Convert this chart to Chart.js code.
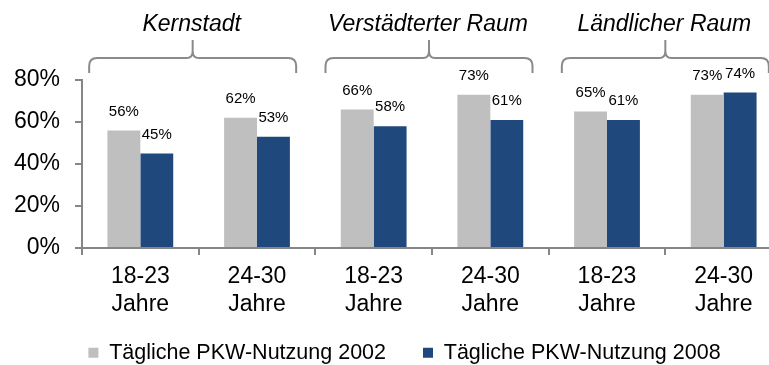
<!DOCTYPE html>
<html lang="de">
<head>
<meta charset="utf-8">
<title>Tägliche PKW-Nutzung</title>
<script src="https://cdn.jsdelivr.net/npm/chart.js@4/dist/chart.umd.min.js"></script>
<style>
  html, body { margin: 0; padding: 0; background: #fff; overflow: hidden; }
  #wrap { width: 769px; height: 365px; overflow: hidden; }
  canvas { display: block; }
</style>
</head>
<body>
<div id="wrap"><canvas id="chart" width="790" height="365"></canvas></div>
<script>
// Age groups per region (two per region)
const ageGroups = [
  ['18-23', 'Jahre'], ['24-30', 'Jahre'],
  ['18-23', 'Jahre'], ['24-30', 'Jahre'],
  ['18-23', 'Jahre'], ['24-30', 'Jahre']
];
const regions = ['Kernstadt', 'Verstädterter Raum', 'Ländlicher Raum'];
const seriesNames = ['Tägliche PKW-Nutzung 2002', 'Tägliche PKW-Nutzung 2008'];
const usage2002 = [56, 62, 66, 73, 65, 73];
const usage2008 = [45, 53, 58, 61, 61, 74];
const yTicks = [0, 20, 40, 60, 80];

const FONT = '"Liberation Sans", Arial, Helvetica, sans-serif';
const AXIS_GREY = '#868686';

// Percent labels above each bar
const valueLabels = {
  id: 'valueLabels',
  afterDatasetsDraw(chart) {
    const ctx = chart.ctx;
    ctx.save();
    ctx.font = '15px ' + FONT;
    ctx.fillStyle = '#000';
    ctx.textAlign = 'center';
    ctx.textBaseline = 'middle';
    chart.data.datasets.forEach((ds, di) => {
      const meta = chart.getDatasetMeta(di);
      meta.data.forEach((bar, i) => {
        ctx.fillText(ds.data[i] + '%', bar.x, bar.y - 19);
      });
    });
    ctx.restore();
  }
};

// Region headings with curly brackets spanning each pair of age groups
const regionBrackets = {
  id: 'regionBrackets',
  afterDraw(chart) {
    const ctx = chart.ctx;
    const x = chart.scales.x;
    const half = 103.5;
    const yTop = 40, yBar = 58, yEnd = 73, r = 8;
    ctx.save();
    regions.forEach((name, g) => {
      const c = x.getPixelForValue(2 * g + 0.5) + (g * 3 - 6);
      const L = c - half, R = c + half;
      ctx.strokeStyle = '#8a8a8a';
      ctx.lineWidth = 2;
      ctx.beginPath();
      ctx.moveTo(L, yEnd);
      ctx.lineTo(L, yBar + r);
      ctx.quadraticCurveTo(L, yBar, L + r, yBar);
      ctx.lineTo(c - 6, yBar);
      ctx.quadraticCurveTo(c, yBar, c, yBar - 7);
      ctx.lineTo(c, yTop);
      ctx.moveTo(c, yBar - 7);
      ctx.quadraticCurveTo(c, yBar, c + 6, yBar);
      ctx.lineTo(R - r, yBar);
      ctx.quadraticCurveTo(R, yBar, R, yBar + r);
      ctx.lineTo(R, yEnd);
      ctx.stroke();

      ctx.font = 'italic 23px ' + FONT;
      ctx.fillStyle = '#000';
      ctx.textAlign = 'center';
      ctx.textBaseline = 'middle';
      ctx.fillText(name, c - 1, 25);
    });
    ctx.restore();
  }
};

// Legend row sits closer to the axis labels and a bit right of the page centre
const legendPlacement = {
  id: 'legendPlacement',
  afterLayout(chart) {
    const lg = chart.legend;
    if (lg) {
      lg.top = 305;
      lg.bottom = chart.height;
      lg.left = 27;
    }
  }
};

new Chart(document.getElementById('chart'), {
  type: 'bar',
  data: {
    labels: ageGroups,
    datasets: [
      { label: seriesNames[0], data: usage2002, backgroundColor: '#BFBFBF', borderWidth: 0 },
      { label: seriesNames[1], data: usage2008, backgroundColor: '#1F497D', borderWidth: 0 }
    ]
  },
  options: {
    responsive: false,
    animation: false,
    devicePixelRatio: 1,
    layout: { padding: { left: 13, right: 8, top: 80, bottom: 0 } },
    datasets: { bar: { categoryPercentage: 0.564, barPercentage: 1.0 } },
    plugins: {
      tooltip: { enabled: false },
      legend: {
        position: 'bottom',
        maxHeight: 45,
        labels: {
          boxWidth: 10,
          boxHeight: 10,
          padding: 37,
          color: '#000',
          font: { family: FONT, size: 21.5 }
        }
      }
    },
    scales: {
      x: {
        afterFit(scale) { scale.height = 72; },
        grid: {
          offset: true,
          drawOnChartArea: false,
          tickLength: 7,
          color: AXIS_GREY,
          lineWidth: 2
        },
        border: { color: AXIS_GREY, width: 2 },
        ticks: {
          color: '#000',
          padding: 8,
          maxRotation: 0,
          font: { family: FONT, size: 23, lineHeight: 1.22 }
        }
      },
      y: {
        min: 0,
        max: 80,
        afterFit(scale) { scale.width = 69; },
        afterBuildTicks(scale) { scale.ticks = yTicks.map(v => ({ value: v })); },
        grid: {
          drawOnChartArea: false,
          tickLength: 7,
          color: AXIS_GREY,
          lineWidth: 2
        },
        border: { color: AXIS_GREY, width: 2 },
        ticks: {
          color: '#000',
          padding: 15,
          font: { family: FONT, size: 23 },
          callback: v => v + '%'
        }
      }
    }
  },
  plugins: [valueLabels, regionBrackets, legendPlacement]
});
</script>
</body>
</html>
